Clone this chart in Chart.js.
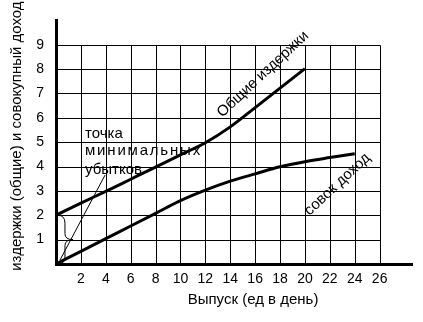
<!DOCTYPE html>
<html>
<head>
<meta charset="utf-8">
<script src="https://cdn.jsdelivr.net/npm/chart.js@4/dist/chart.umd.min.js"></script>
<style>
  html, body { margin: 0; padding: 0; background: #fff; }
  canvas { display: block; }
</style>
</head>
<body>
<canvas id="chart" width="423" height="322"></canvas>
<script>
// Output per day and the two curves read against it
const output = [0, 2, 4, 6, 8, 10, 12, 14, 16, 18, 20, 22, 24];
const totalCost = [2.0, 2.5, 2.98, 3.48, 3.98, 4.48, 4.98, 5.63, 6.42, 7.22, 8.02];
const totalRevenue = [0, 0.52, 1.04, 1.56, 2.08, 2.6, 3.03, 3.4, 3.7, 3.99, 4.2, 4.37, 4.53];

// Tick labels
const xTicks = [2, 4, 6, 8, 10, 12, 14, 16, 18, 20, 22, 24, 26];
const yTicks = [1, 2, 3, 4, 5, 6, 7, 8, 9];

// Texts
const xTitle = 'Выпуск (ед в день)';
const yTitle = 'издержки (общие) и совокупный доход';
const costLabel = 'Общие издержки';
const revenueLabel = 'совок доход';
const noteLines = ['точка', 'минимальных', 'убытков'];

const FONT = "'Liberation Sans', Arial, sans-serif";

const toPoints = (ys) => ys.map((y, i) => ({ x: output[i], y }));

// Grid, axis titles, curve labels and the minimal-loss note
const decorations = {
  id: 'decorations',
  beforeDatasetsDraw(chart) {
    const { ctx, scales: { x, y } } = chart;
    const xMax = xTicks[xTicks.length - 1];
    const yMax = yTicks[yTicks.length - 1];
    ctx.save();
    ctx.strokeStyle = '#000';
    ctx.lineWidth = 1;
    ctx.beginPath();
    xTicks.forEach(v => {
      const px = Math.round(x.getPixelForValue(v)) + 0.5;
      ctx.moveTo(px, y.getPixelForValue(0));
      ctx.lineTo(px, Math.round(y.getPixelForValue(yMax)) + 0.5);
    });
    yTicks.forEach(v => {
      const py = Math.round(y.getPixelForValue(v)) + 0.5;
      ctx.moveTo(x.getPixelForValue(0), py);
      ctx.lineTo(Math.round(x.getPixelForValue(xMax)) + 0.5, py);
    });
    ctx.stroke();
    ctx.restore();
  },
  afterDatasetsDraw(chart) {
    const { ctx, chartArea, scales: { x, y } } = chart;
    ctx.save();
    ctx.fillStyle = '#000';
    ctx.strokeStyle = '#000';

    // note text
    ctx.font = '15px ' + FONT;
    ctx.textAlign = 'left';
    ctx.textBaseline = 'alphabetic';
    const noteY = [5.18, 4.46, 3.69];
    const noteSpacing = ['0px', '1.8px', '0px'];
    noteLines.forEach((t, i) => {
      ctx.letterSpacing = noteSpacing[i];
      ctx.fillText(t, x.getPixelForValue(2.33), y.getPixelForValue(noteY[i]));
    });
    ctx.letterSpacing = '0px';

    // leader line from the note
    ctx.lineWidth = 1;
    ctx.beginPath();
    ctx.moveTo(x.getPixelForValue(3.94), y.getPixelForValue(3.65));
    ctx.lineTo(x.getPixelForValue(0.32), y.getPixelForValue(0.16));
    ctx.stroke();

    // brace between the two curves at zero output
    const x0 = x.getPixelForValue(0) + 2;
    const arm = x.getPixelForValue(0.72);
    const tipX = x.getPixelForValue(1.37);
    const top = y.getPixelForValue(totalCost[0]);
    const bot = y.getPixelForValue(totalRevenue[0]);
    const mid = y.getPixelForValue((totalCost[0] + totalRevenue[0]) / 2);
    ctx.beginPath();
    ctx.moveTo(x0, top);
    ctx.quadraticCurveTo(arm, top, arm, top + 8);
    ctx.lineTo(arm, mid - 6);
    ctx.quadraticCurveTo(arm, mid, tipX, mid);
    ctx.quadraticCurveTo(arm, mid, arm, mid + 6);
    ctx.lineTo(arm, bot - 7);
    ctx.quadraticCurveTo(arm, bot, x0, bot);
    ctx.stroke();

    // curve labels
    ctx.font = '15px ' + FONT;
    ctx.textAlign = 'center';
    ctx.textBaseline = 'middle';
    const angle = -43 * Math.PI / 180;
    [[costLabel, 16.63, 7.79], [revenueLabel, 22.61, 3.27]].forEach(([t, vx, vy]) => {
      ctx.save();
      ctx.translate(x.getPixelForValue(vx), y.getPixelForValue(vy));
      ctx.rotate(angle);
      ctx.fillText(t, 0, 0);
      ctx.restore();
    });

    // axis titles
    ctx.font = '15px ' + FONT;
    ctx.fillText(xTitle, x.getPixelForValue(15.83), chartArea.bottom + 36);
    ctx.save();
    ctx.translate(17, y.getPixelForValue(5.25));
    ctx.rotate(-Math.PI / 2);
    ctx.fillText(yTitle, 0, 0);
    ctx.restore();

    ctx.restore();
  }
};

new Chart(document.getElementById('chart'), {
  type: 'line',
  data: {
    datasets: [
      { label: costLabel, data: toPoints(totalCost) },
      { label: revenueLabel, data: toPoints(totalRevenue) }
    ]
  },
  options: {
    responsive: false,
    animation: false,
    devicePixelRatio: 1,
    layout: { padding: { top: 15, right: 11, left: 0, bottom: 0 } },
    elements: {
      line: { borderColor: '#000', borderWidth: 3, cubicInterpolationMode: 'monotone', fill: false },
      point: { radius: 0, hoverRadius: 0 }
    },
    plugins: { legend: { display: false }, tooltip: { enabled: false } },
    scales: {
      x: {
        type: 'linear', min: 0, max: 28.6,
        afterFit: (s) => { s.height = 58; },
        afterBuildTicks: (s) => { s.ticks = xTicks.map(v => ({ value: v })); },
        grid: { display: false, drawTicks: false },
        border: { display: true, color: '#000', width: 3 },
        ticks: { color: '#000', padding: 7, maxRotation: 0, autoSkip: false, font: { family: FONT, size: 14 } }
      },
      y: {
        type: 'linear', min: 0, max: 10,
        afterFit: (s) => { s.width = 56; },
        afterBuildTicks: (s) => { s.ticks = yTicks.map(v => ({ value: v })); },
        grid: { display: false, drawTicks: false },
        border: { display: true, color: '#000', width: 3 },
        ticks: { color: '#000', padding: 12, autoSkip: false, font: { family: FONT, size: 14 } }
      }
    }
  },
  plugins: [decorations]
});
</script>
</body>
</html>
